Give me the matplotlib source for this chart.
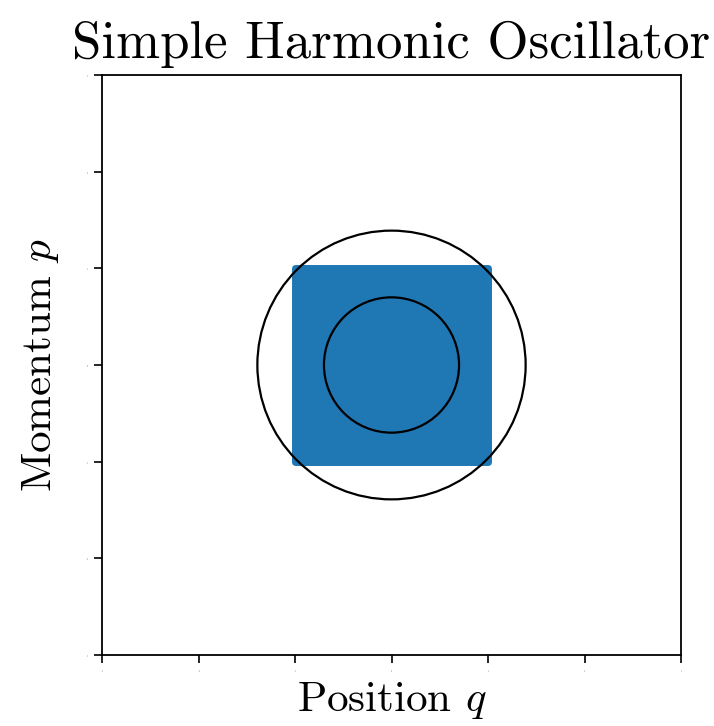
import matplotlib
matplotlib.use("Agg")
import matplotlib.pyplot as plt
import numpy as np
from matplotlib.patches import Circle, Rectangle

plt.rcParams['font.family'] = 'serif'
plt.rcParams['font.serif'] = ['cmr10', 'DejaVu Serif']
plt.rcParams['mathtext.fontset'] = 'cm'
plt.rcParams['axes.formatter.use_mathtext'] = True

# Data
q_range = [-1.0, 1.0]        # uniform ensemble in position
p_range = [-1.0, 1.0]        # uniform ensemble in momentum
circle_radii = [0.7, 1.39]   # energy contours
axis_limits = [-3, 3]
tick_values = [-3, -2, -1, 0, 1, 2, 3]

fig = plt.figure(figsize=(7.14, 7.26), dpi=100)
ax = fig.add_axes([102/714, 1 - 655/726, 579/714, 580/726])

rect = Rectangle((q_range[0], p_range[0]), q_range[1] - q_range[0], p_range[1] - p_range[0],
                 facecolor='#1f77b4', edgecolor='#1f77b4', linewidth=5,
                 joinstyle='round', zorder=1)
ax.add_patch(rect)
for r in circle_radii:
    ax.add_patch(Circle((0, 0), r, fill=False, edgecolor='black', linewidth=1.6, zorder=2))

ax.set_xlim(axis_limits)
ax.set_ylim(axis_limits)
ax.set_xticks(tick_values)
ax.set_yticks(tick_values)
ax.tick_params(direction='out', length=6, width=1.2, labelsize=1, colors='black')
for s in ax.spines.values():
    s.set_linewidth(1.3)

ax.set_title('Simple Harmonic Oscillator', fontsize=38, pad=12)
ax.set_xlabel('Position $q$', fontsize=31, labelpad=4)
ax.set_ylabel('Momentum $p$', fontsize=31, labelpad=17)

fig.savefig('out.png', dpi=100)
